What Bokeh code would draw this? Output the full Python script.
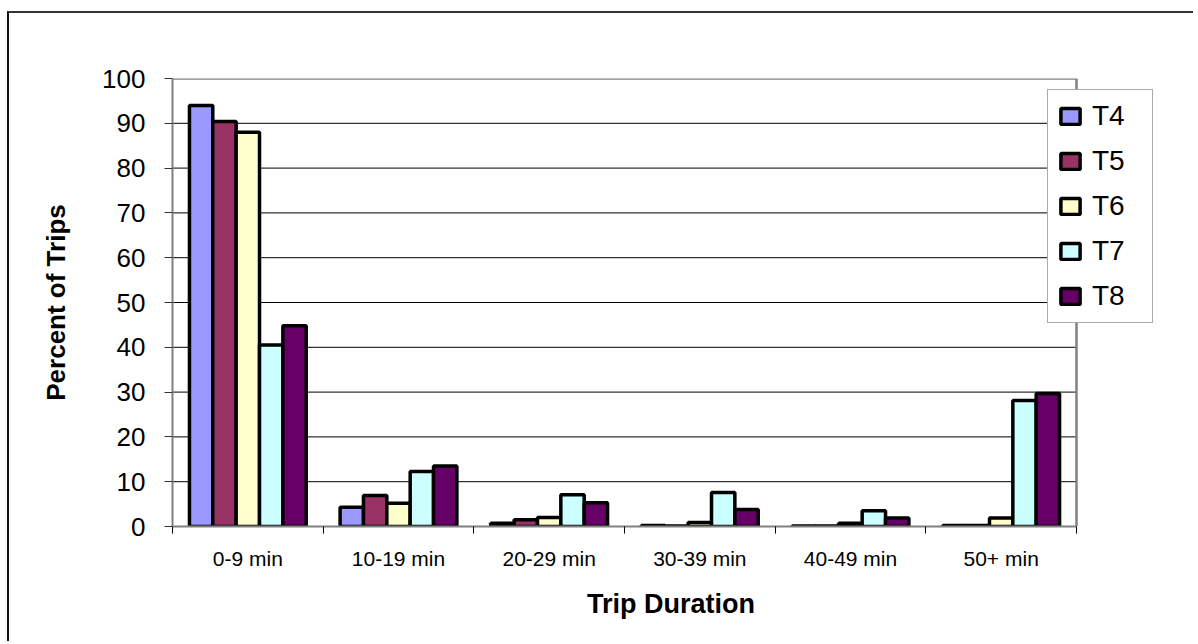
from bokeh.plotting import figure
from bokeh.models import ColumnDataSource, Range1d, FixedTicker, Legend, LegendItem
from bokeh.embed import file_html
from bokeh.resources import INLINE

categories = ["0-9 min", "10-19 min", "20-29 min", "30-39 min", "40-49 min", "50+ min"]
series = ["T4", "T5", "T6", "T7", "T8"]
t4 = [94.0, 4.3, 0.7, 0.2, 0.1, 0.2]
t5 = [90.4, 6.9, 1.5, 0.1, 0.1, 0.2]
t6 = [88.0, 5.2, 2.0, 0.9, 0.7, 1.9]
t7 = [40.5, 12.3, 7.1, 7.6, 3.5, 28.1]
t8 = [44.8, 13.5, 5.3, 3.8, 1.9, 29.7]
values = [t4, t5, t6, t7, t8]
colors = ["#9999FF", "#993366", "#FFFFCC", "#CCFFFF", "#660066"]
y_ticks = [0, 10, 20, 30, 40, 50, 60, 70, 80, 90, 100]

FONT = "Liberation Sans"
ncat = len(categories)
# extra room to the right of the category area holds the legend
x_end = ncat * 997 / 904

p = figure(width=1186, height=630, output_backend="svg", toolbar_location=None,
           x_range=Range1d(0, x_end), y_range=Range1d(0, 100),
           min_border_left=163, min_border_right=26, min_border_top=65, min_border_bottom=117)
p.styles = {"margin-top": "11px", "margin-left": "7px",
            "border-top": "2px solid #333333", "border-left": "2px solid #111111"}
p.background_fill_color = "white"
p.border_fill_color = "white"
p.outline_line_color = None

# grid lines over the category area only
grid_y = [t for t in y_ticks if 0 < t < 100]
p.segment(x0=[0] * len(grid_y), x1=[ncat] * len(grid_y), y0=grid_y, y1=grid_y,
          line_color="black", line_width=1)
# plot-area border (top and right)
p.segment(x0=[0, ncat], x1=[ncat, ncat], y0=[y_ticks[-1], 0], y1=[y_ticks[-1], y_ticks[-1]],
          line_color="#808080", line_width=2.5)

bw = 0.155
n = len(series)
items = []
for k, (name, vals, col) in enumerate(zip(series, values, colors)):
    xs = [i + 0.5 + (k - (n - 1) / 2) * bw for i in range(ncat)]
    src = ColumnDataSource(dict(x=xs, top=vals))
    r = p.vbar(x="x", top="top", width=bw, bottom=0, source=src,
               fill_color=col, line_color="black", line_width=3.5)
    items.append(LegendItem(label=name, renderers=[r]))

# axes
centers = [i + 0.5 for i in range(ncat)]
bounds = list(range(ncat + 1))
p.xaxis.bounds = (0, ncat)
p.xaxis.ticker = FixedTicker(ticks=centers, minor_ticks=bounds)
p.xaxis.major_label_overrides = {c: lab for c, lab in zip(centers, categories)}
p.xaxis.major_tick_out = 0
p.xaxis.major_tick_in = 0
p.xaxis.minor_tick_out = 7
p.xaxis.minor_tick_in = 0
p.xaxis.minor_tick_line_color = "black"
p.xaxis.axis_line_color = "#808080"
p.xaxis.axis_line_width = 2
p.xaxis.major_label_text_font = FONT
p.xaxis.major_label_text_font_size = "21px"
p.xaxis.major_label_text_color = "black"
p.xaxis.major_label_standoff = 13
p.xaxis.axis_label = "Trip Duration"
p.xaxis.axis_label_text_font = FONT
p.xaxis.axis_label_text_font_style = "bold"
p.xaxis.axis_label_text_font_size = "27px"
p.xaxis.axis_label_text_color = "black"
p.xaxis.axis_label_standoff = 16

p.yaxis.ticker = FixedTicker(ticks=y_ticks)
p.yaxis.major_tick_out = 8
p.yaxis.major_tick_in = 0
p.yaxis.minor_tick_out = 0
p.yaxis.minor_tick_in = 0
p.yaxis.major_tick_line_color = "#333333"
p.yaxis.axis_line_color = "#808080"
p.yaxis.axis_line_width = 2
p.yaxis.major_label_text_font = FONT
p.yaxis.major_label_text_font_size = "26px"
p.yaxis.major_label_text_color = "black"
p.yaxis.major_label_standoff = 19
p.yaxis.axis_label = "Percent of Trips"
p.yaxis.axis_label_text_font = FONT
p.yaxis.axis_label_text_font_style = "bold"
p.yaxis.axis_label_text_font_size = "26px"
p.yaxis.axis_label_text_color = "black"
p.yaxis.axis_label_standoff = 28

p.xgrid.grid_line_color = None
p.ygrid.grid_line_color = None

legend = Legend(items=items, location=(875, 203))
legend.label_text_font = FONT
legend.label_text_font_size = "28px"
legend.label_text_color = "black"
legend.glyph_width = 24
legend.glyph_height = 20
legend.label_standoff = 10
legend.label_width = 50
legend.padding = 10
legend.spacing = 13
legend.margin = 0
legend.border_line_color = "#555555"
legend.border_line_width = 1
legend.background_fill_color = "white"
legend.background_fill_alpha = 1
p.add_layout(legend, "center")

open("out.html", "w").write(file_html(p, INLINE))
